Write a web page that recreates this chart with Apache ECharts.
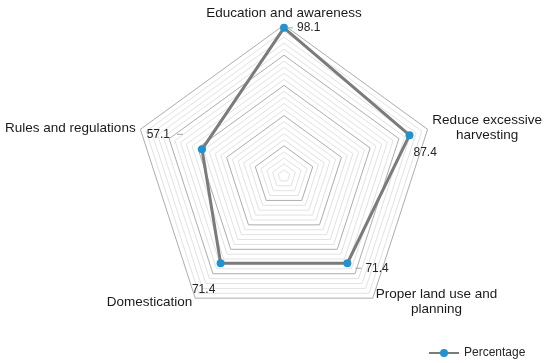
<!DOCTYPE html>
<html><head><meta charset="utf-8">
<script src="https://cdn.jsdelivr.net/npm/echarts@6/dist/echarts.min.js"></script>
<style>html,body{margin:0;padding:0;background:#fff}#c{width:550px;height:363px}</style>
</head><body><div id="c"></div>
<script>
// Indicators listed in ECharts order (counter-clockwise from the top)
const categories = ['Education and awareness', 'Rules and regulations', 'Domestication', 'Proper land use and planning', 'Reduce excessive harvesting'];
const values = [98.1, 57.1, 71.4, 71.4, 87.4];
const axisMin = 0;
const axisMax = 100;
const seriesName = 'Percentage';

const FONT = '"Liberation Sans", Arial, sans-serif';
const LINE_GRAY = '#7b7b7b';
const DOT_BLUE = '#1f93d2';

// Two-line names are centred line by line, as in the original
const nameBreaks = {
  'Reduce excessive harvesting': ['Reduce excessive', 'harvesting'],
  'Proper land use and planning': ['Proper land use and', 'planning']
};

// Placement of each value label (style, not data); lead = short leader dash side
const labelPlacement = [
  { position: 'right', distance: 3, offset: [0, 0], lead: 'before' },
  { position: 'left', distance: 19, offset: [0, -15], lead: 'after' },
  { position: 'inside', distance: 0, offset: [-17, 26], lead: 'none' },
  { position: 'right', distance: 8, offset: [0, 5], lead: 'before' },
  { position: 'right', distance: 4, offset: [0, 17], lead: 'none' }
];

const labelSeries = values.map((v, k) => ({
  type: 'radar',
  silent: true,
  symbol: 'circle',
  symbolSize: 0.01,
  lineStyle: { width: 0, opacity: 0 },
  itemStyle: { color: 'transparent' },
  emphasis: { disabled: true },
  z: 5,
  label: {
    show: true,
    position: labelPlacement[k].position,
    distance: labelPlacement[k].distance,
    offset: labelPlacement[k].offset,
    color: '#262626',
    fontSize: 12,
    fontFamily: FONT,
    formatter: p => {
      if (typeof p.value !== 'number') return '';
      const t = p.value.toFixed(1);
      const lead = labelPlacement[k].lead;
      if (lead === 'before') return '{l| }{vb|' + t + '}';
      if (lead === 'after') return '{va|' + t + '}{l| }';
      return t;
    },
    rich: {
      l: { width: 6, height: 1, backgroundColor: '#a6a6a6' },
      vb: { padding: [0, 0, 0, 4], fontSize: 12, fontFamily: FONT, color: '#262626' },
      va: { padding: [0, 7, 0, 0], fontSize: 12, fontFamily: FONT, color: '#262626' }
    }
  },
  data: [{ value: values.map((x, i) => (i === k ? x : '-')) }]
}));

const chart = echarts.init(document.getElementById('c'), null, { renderer: 'canvas' });
chart.setOption({
  animation: false,
  backgroundColor: '#ffffff',
  legend: {
    data: [seriesName],
    left: 423,
    top: 342,
    itemWidth: 30,
    itemHeight: 10,
    selectedMode: false,
    textStyle: { fontSize: 12, fontFamily: FONT, color: '#262626' }
  },
  grid: { show: false, left: -200, top: -200, width: 10, height: 10 },
  xAxis: { show: false, type: 'category', data: [] },
  yAxis: { show: false, type: 'value' },
  radar: {
    center: [284, 176],
    radius: 151,
    startAngle: 90,
    shape: 'polygon',
    splitNumber: 25,
    nameGap: 5,
    indicator: categories.map(n => ({ name: n, min: axisMin, max: axisMax })),
    axisName: {
      color: '#1a1a1a',
      fontSize: 13.5,
      fontFamily: FONT,
      formatter: function (name) {
        if (nameBreaks[name]) return nameBreaks[name].map(s => '{c|' + s + '}').join('\n');
        return name;
      },
      rich: { c: { align: 'center', fontSize: 13.5, fontFamily: FONT, color: '#1a1a1a', lineHeight: 15 } }
    },
    axisLine: { show: false },
    axisTick: { show: false },
    axisLabel: { show: false },
    splitArea: { show: false },
    splitLine: { lineStyle: { color: ['#adadad', '#e2e2e2', '#e2e2e2', '#e2e2e2', '#e2e2e2'], width: 1 } }
  },
  series: [
    {
      type: 'line',
      name: seriesName,
      data: [],
      symbol: 'circle',
      symbolSize: 8,
      lineStyle: { color: LINE_GRAY, width: 3 },
      itemStyle: { color: DOT_BLUE }
    },
    {
      type: 'radar',
      name: seriesName,
      symbol: 'circle',
      symbolSize: 8,
      z: 3,
      lineStyle: { color: LINE_GRAY, width: 3 },
      itemStyle: { color: DOT_BLUE },
      label: { show: false },
      data: [{ value: values, name: seriesName }]
    }
  ].concat(labelSeries)
});
</script>
</body></html>
